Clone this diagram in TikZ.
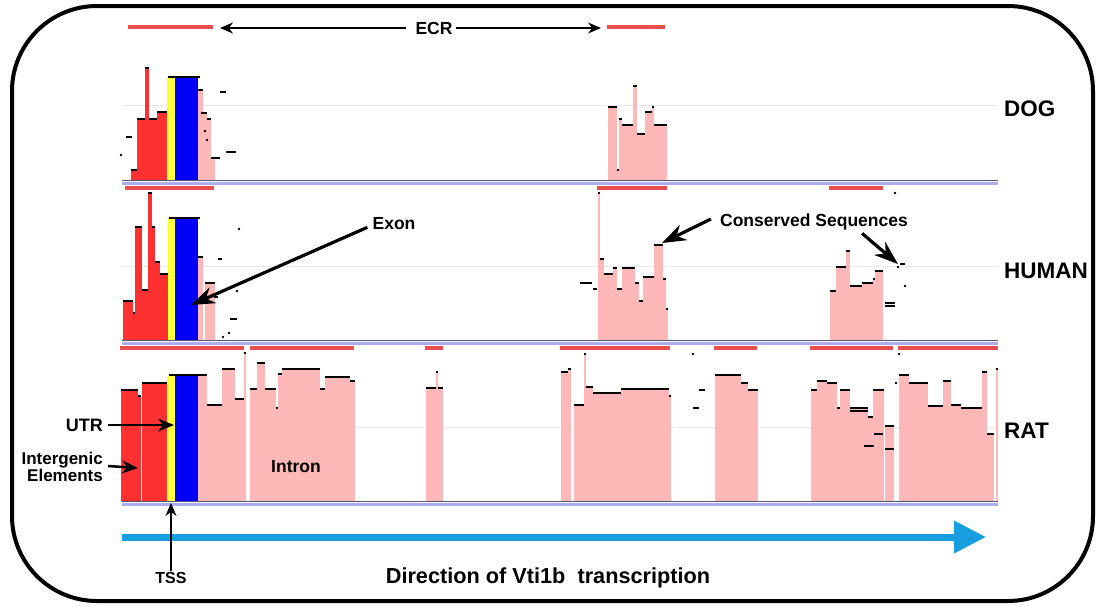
\documentclass[tikz,border=0pt]{standalone}
\usepackage{fontspec}
\setmainfont{Liberation Sans}
\usetikzlibrary{arrows.meta}
\definecolor{redc}{RGB}{255,48,48}
\definecolor{pinkc}{RGB}{255,184,184}
\definecolor{yelc}{RGB}{255,255,60}
\definecolor{bluc}{RGB}{0,0,250}
\definecolor{ecrc}{RGB}{232,78,78}
\definecolor{arrb}{RGB}{22,158,222}
\definecolor{lavc}{RGB}{172,172,240}
\definecolor{basec}{RGB}{85,85,115}
\definecolor{gridc}{RGB}{232,232,232}
\newcommand\trk[3]{%
  \foreach \a/\b/\h in {#3} {\fill[#1] (\a,\h) rectangle (\b,#2);}
  \foreach \a/\b/\h in {#3} {\draw[lvl] (\a,\h) -- (\b,\h);}}
\newcommand\dsh[1]{\foreach \a/\b/\h in {#1} {\draw[lvl] (\a,\h) -- (\b,\h);}}
\newcommand\dts[1]{\foreach \a/\h in {#1} {\fill (\a,\h) circle (1.4);}}
\tikzset{
  lvl/.style={line width=2.8pt, black},
  ecrbar/.style={line width=4pt, ecrc},
  gridln/.style={line width=0.8pt, gridc},
  lbl/.style={font=\fontsize{22.5}{24}\selectfont\bfseries, anchor=west, inner sep=0pt},
  note/.style={font=\fontsize{17.5}{18}\selectfont\bfseries, inner sep=1pt},
  bigarr/.style={line width=3.2pt, -{Stealth[length=24pt,width=17pt]}},
  midarr/.style={line width=2.5pt, -{Stealth[length=16pt,width=13pt]}},
  smallarr/.style={line width=1.9pt, -{Stealth[length=13pt,width=11pt]}},
}
\begin{document}
\begin{tikzpicture}[x=1pt,y=-1pt]
\useasboundingbox (0,0) rectangle (1102,606);
\fill[white] (0,0) rectangle (1102,606);
% frame
\draw[line width=4pt, rounded corners=85pt] (12,6) rectangle (1093,601);

% grid lines
\foreach \g in {105,266,427} \draw[gridln] (122,\g) -- (998,\g);

% ================= DOG (base 180) =================
\trk{redc}{180}{131/137/170, 137/145/119, 145/149/68, 149/157/119, 157/167/112}
\trk{pinkc}{180}{198/203/90, 203/207/113, 207/211/119, 211/215/158}
\fill[yelc] (167,77) rectangle (175,180);
\fill[bluc] (175,77) rectangle (198,180);
\draw[lvl] (168,77) -- (200,77);
\dsh{215/220/158, 126/132/137, 220/226/92, 226/236/152}
\dts{121/155, 202/113, 205/131, 207/140}
\trk{pinkc}{180}{608/617/107, 617/619/170, 619/622/119, 622/633/125, 633/637/86, 637/645/134, 645/652/112, 652/654/107, 654/667/125}

% ================= HUMAN (base 340) =================
\trk{redc}{340}{123/133/301, 133/135/313, 135/142/227, 142/148/290, 148/152/193, 152/155/227, 155/160/262, 160/168/274}
\fill[yelc] (168,218) rectangle (175,340);
\fill[bluc] (175,218) rectangle (198,340);
\draw[lvl] (169,218) -- (200,218);
\trk{pinkc}{340}{198/203/257, 205/215/283}
\dsh{218/222/259, 214/218/297, 230/237/319}
\dts{239/229, 237/291, 223/337, 229/333}
\trk{pinkc}{340}{598/600/193, 600/604/259, 604/613/274, 613/617/268, 617/622/289, 622/635/268, 635/639/283, 639/643/301, 643/654/277, 654/663/245, 663/666/279, 666/668/309}
\dsh{580/592/283, 593/597/289}
\trk{pinkc}{340}{830/836/291, 836/846/267, 846/850/251, 850/862/286, 862/873/283, 873/875/279, 875/883/271}
\dsh{885/895/303, 885/895/306, 900/905/264}
\dts{898/267, 905/286, 895/193}

% ================= RAT (base 501) =================
\trk{redc}{501}{121/138/390, 138/141/396, 142/167/383}
\fill[yelc] (167,375) rectangle (175,501);
\fill[bluc] (175,375) rectangle (198,501);
\draw[lvl] (169,375) -- (207,375);
\trk{pinkc}{501}{198/207/375, 207/222/405, 222/235/369, 235/244/399, 244/245.5/353}
\trk{pinkc}{501}{250/257/389, 257/265/363, 265/276/389, 276/278/408, 278/282/374, 282/320/369, 320/325/389, 325/350/377, 350/355/381}
\trk{pinkc}{501}{426/436/388, 436/438/372, 438/443/388}
\trk{pinkc}{501}{561/568/372, 568/571/369, 574/584/405, 584/586/354, 586/593/387, 593/621/393, 621/669/389, 669/671/396}
\dsh{693/699/408, 699/705/390}
\dts{693/354}
\trk{pinkc}{501}{715/741/375, 741/748/383, 748/758/390}
\trk{pinkc}{501}{811/817/390, 817/827/381, 827/837/383, 837/840/408, 840/850/390, 850/868/408, 868/873/417, 873/884/390}
\dsh{850/868/411, 864/874/446, 874/883/434}
\trk{pinkc}{501}{885/894/426}
\dsh{885/894/449}
\dts{896/383, 899/354}
\trk{pinkc}{501}{899/909/375, 909/928/383, 928/943/406, 943/951/381, 951/961/405, 961/982/408, 982/987/372, 987/994/434, 996/998/369}

% baselines
\foreach \bb in {180,340,501} {
  \draw[line width=3pt, lavc] (122,\bb+3) -- (998,\bb+3);
  \draw[line width=1pt, basec] (122,\bb+0.8) -- (998,\bb+0.8);
}

% ECR bars
\draw[ecrbar] (128,27) -- (213,27);
\draw[ecrbar] (607,27) -- (665,27);
\draw[ecrbar] (125,188) -- (214,188);
\draw[ecrbar] (597,188) -- (667,188);
\draw[ecrbar] (829,188) -- (883,188);
\foreach \p/\q in {120/244, 250/354, 425/443, 560/670, 714/757, 810/893, 898/998}
  \draw[ecrbar] (\p,348) -- (\q,348);

% labels
\node[lbl] (dog) at (1004,109) {DOG};
\node[lbl] (human) at (1004,271) {HUMAN};
\node[lbl] (rat) at (1004,431) {RAT};

% ECR
\node[note] (ecr) at (434,28) {ECR};
\coordinate (ecrl) at (220,28);
\coordinate (ecrr) at (601,28);
\draw[smallarr] ([xshift=-8pt]ecr.west) -- (ecrl);
\draw[smallarr] ([xshift=2pt]ecr.east) -- (ecrr);

% Exon
\node[note] (exon) at (394,224) {Exon};
\coordinate (exontip) at (191,305);
\draw[bigarr] ([xshift=-4pt,yshift=4pt]exon.south west) -- (exontip);

% Conserved Sequences
\node[note] (cons) at (814,222) {Conserved Sequences};
\coordinate (ctip1) at (662,243);
\coordinate (ctip2) at (898,264);
\draw[bigarr] ([xshift=-8pt,yshift=3pt]cons.west) -- (ctip1);
\draw[bigarr] ([xshift=-47pt,yshift=-2pt]cons.south east) -- (ctip2);

% UTR / Intergenic
\node[note, anchor=east, font=\fontsize{18}{18}\selectfont\bfseries] (utr) at (104,425) {UTR};
\coordinate (utrtip) at (174,425);
\draw[midarr] ([xshift=4pt]utr.east) -- (utrtip);
\node[note, anchor=east, align=right, font=\fontsize{17}{14.5}\selectfont\bfseries] (inter) at (104,467) {Intergenic\\Elements};
\coordinate (intertip) at (138,468);
\draw[midarr] ([xshift=4pt,yshift=1pt]inter.east) -- (intertip);

% Intron
\node[note] (intron) at (296,467) {Intron};

% Direction arrow
\coordinate (dirs) at (122,537);
\coordinate (dire) at (986,537);
\draw[line width=7pt, arrb, -{Triangle[length=32pt,width=31pt]}] (dirs) -- (dire);

% TSS
\node[note, font=\fontsize{16}{16}\selectfont\bfseries] (tss) at (171,578) {TSS};
\coordinate (tsstip) at (171,503);
\draw[smallarr, line width=1.7pt] (tss.north) -- (tsstip);

\node[note, font=\fontsize{21.7}{22}\selectfont\bfseries] (dir) at (548,578) {Direction of Vti1b\ \ transcription};
\end{tikzpicture}
\end{document}
